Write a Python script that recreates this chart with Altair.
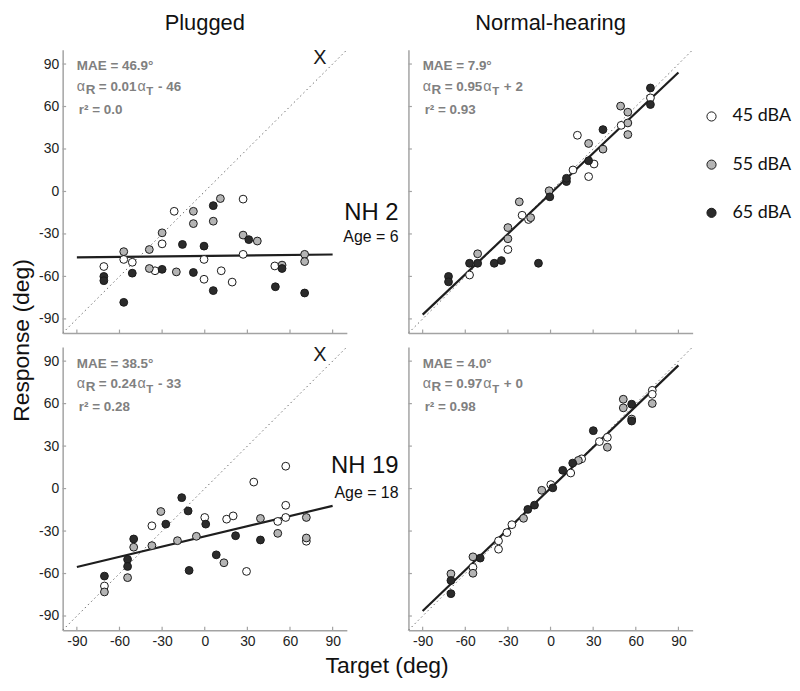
import altair as alt
import pandas as pd

LEVELS = ["45 dBA", "55 dBA", "65 dBA"]
FILLS = ["#ffffff", "#b4b4b4", "#2b2b2b"]
TICKS = [-90, -60, -30, 0, 30, 60, 90]

# Panel 1: Plugged, NH 2
p1_45_t = [-71, -57, -51, -35, -30, -21.5, -0.5, -0.5, 11.6, 19.3, 27, 27, 49.3]
p1_45_r = [-53, -48, -50, -56, -37, -14, -48, -62, -56, -64, -5.4, -44.4, -52.6]
p1_55_t = [-57, -39, -39, -30, -20, -8, -8, 6, 11, 27, 37, 54.4, 70.3, 70.3]
p1_55_r = [-42.5, -41, -54.4, -29.2, -56.8, -14, -22.7, -21, -5, -30.8, -35, -52, -44.4, -49.5]
p1_65_t = [-71, -71, -57, -51, -30, -15.7, -8, -0.5, 6, 6, 31, 49.7, 54.4, 70.3]
p1_65_r = [-60, -63, -78.3, -57.7, -55, -37.4, -57.2, -38.6, -10, -70, -34, -67.3, -54.4, -71.7]

# Panel 2: Normal-hearing, NH 2
p2_45_t = [-57, -30, -20, -15.5, 15.8, 18.9, 26.8, 30.6, 49.7, 70.3]
p2_45_r = [-59, -41, -16.8, -19.8, 15.2, 39.7, 10.5, 19.4, 46.7, 66.1]
p2_55_t = [-51.3, -30, -30, -22, -14, -1, 26.8, 36.9, 49.3, 54.4, 54.4, 54.4]
p2_55_r = [-44, -25.5, -33.4, -7.3, -18.5, 0.5, 33.9, 29.9, 60.3, 56, 48.4, 40.2]
p2_65_t = [-71.8, -71.8, -57, -51.3, -39.6, -34.6, -8.5, -0.5, 11.2, 11.2, 26.8, 36.9, 70.3, 70.3]
p2_65_r = [-60, -63.8, -50.7, -50.7, -50.7, -48.8, -50.7, -3.8, 7, 9.3, 21.7, 43.7, 73.1, 61.4]

# Panel 3: Plugged, NH 19
p3_45_t = [-70.6, -37.2, 0, 15.4, 20, 29.4, 34.5, 51.4, 57, 57, 57, 71.5]
p3_45_r = [-68.8, -26.3, -20.4, -21.6, -19.3, -58.5, 4.6, -23.2, 15.8, -11.8, -20.4, -37.2]
p3_55_t = [-70.6, -54.3, -50, -37.2, -30.9, -19.2, -5.9, 13.5, 39.2, 51.4, 71.5, 71.5]
p3_55_r = [-73, -62.9, -41.4, -40.3, -16.2, -36.8, -33.7, -52.4, -21.1, -31.6, -20.4, -34.9]
p3_65_t = [-70.6, -54.3, -54.3, -50, -27.4, -16.2, -11.7, -11, 0.7, 8.1, 21.7, 39.2]
p3_65_r = [-61.8, -50, -55, -35.6, -25.1, -6.4, -15.8, -57.8, -25.1, -46.8, -33.3, -36.3]

# Panel 4: Normal-hearing, NH 19
p4_45_t = [-54.6, -36.6, -36.6, -30.7, -27.2, 0.2, 14.2, 21.9, 34.4, 40, 71.6, 71.6]
p4_45_r = [-55.6, -36.9, -42.8, -31.1, -25.5, 2.8, 11, 21, 33.2, 36.2, 69.4, 66.6]
p4_55_t = [-70.1, -54.6, -54.6, -19, -6.2, 19.6, 40, 51.2, 51.2, 57.1, 71.6]
p4_55_r = [-60.2, -48.2, -59.8, -21, -1.2, 19.9, 29.2, 63.1, 57, 49.1, 60.1]
p4_65_t = [-70.1, -70.1, -49.5, -16, -11.3, 1.6, 8.6, 15.6, 30.1, 57.1, 57.1]
p4_65_r = [-74.2, -64.9, -49.1, -14.7, -11.7, 0.5, 12.9, 18, 40.9, 59.6, 47.7]

# Regression lines (endpoints at target -90 and 90)
FIT_X = [-90, 90]
p1_fit = [-46.5, -44.5]
p2_fit = [-87, 84]
p3_fit = [-55.4, -12.2]
p4_fit = [-86.5, 87]

MAE = ["MAE = 46.9°", "MAE = 7.9°", "MAE = 38.5°", "MAE = 4.0°"]
SLOPE = ["= 0.01", "= 0.95", "= 0.24", "= 0.97"]
INTERCEPT = ["- 46", "+ 2", "- 33", "+ 0"]
R2 = ["r² = 0.0", "r² = 0.93", "r² = 0.28", "r² = 0.98"]
SUBJECT = [None, ("NH 2", "Age = 6"), None, ("NH 19", "Age = 18")]
SUBJECT_Y = [None, (-15, -32.5), None, (16, -3)]
COL_TITLES = ["Plugged", "Normal-hearing", None, None]

W, H = 286, 285
FONT = "Liberation Sans"
ANN = "#808080"
AXC = "#a3a3a3"
FS = 13.5

CW = {'0': .556, '1': .556, '2': .556, '3': .556, '4': .556, '5': .556, '6': .556,
      '7': .556, '8': .556, '9': .556, '.': .278, ' ': .278, '=': .584, '-': .333,
      '+': .584, 'R': .722, 'T': .611}


def tw(s, fs):
    return sum(CW.get(c, .556) for c in s) * fs


def pts(ts, rs, lev):
    return pd.DataFrame({"x": ts, "y": rs, "level": lev})


DATA = [
    pd.concat([pts(p1_45_t, p1_45_r, LEVELS[0]), pts(p1_55_t, p1_55_r, LEVELS[1]), pts(p1_65_t, p1_65_r, LEVELS[2])]),
    pd.concat([pts(p2_45_t, p2_45_r, LEVELS[0]), pts(p2_55_t, p2_55_r, LEVELS[1]), pts(p2_65_t, p2_65_r, LEVELS[2])]),
    pd.concat([pts(p3_45_t, p3_45_r, LEVELS[0]), pts(p3_55_t, p3_55_r, LEVELS[1]), pts(p3_65_t, p3_65_r, LEVELS[2])]),
    pd.concat([pts(p4_45_t, p4_45_r, LEVELS[0]), pts(p4_55_t, p4_55_r, LEVELS[1]), pts(p4_65_t, p4_65_r, LEVELS[2])]),
]
FITS = [p1_fit, p2_fit, p3_fit, p4_fit]

legend = alt.Legend(orient="none", legendX=644, legendY=58, title=None,
                    symbolType="circle", symbolSize=85, symbolStrokeColor="#1a1a1a",
                    symbolStrokeWidth=1, symbolFillColor="#ffffff",
                    labelFont="Lato", labelFontSize=18, labelColor="#111111",
                    labelOffset=12, rowPadding=30.5, padding=0)


def make_axis(labels, title=None, **kw):
    return alt.Axis(values=TICKS, labels=labels, ticks=False, tickSize=0, grid=False,
                    domainColor=AXC, domainWidth=1.5, labelFont=FONT, labelFontSize=14,
                    labelColor="#222222", labelPadding=4, labelExpr="'' + datum.value",
                    title=title, titleFont=FONT, titleFontSize=23, titleFontWeight="normal",
                    titleColor="#111111", **kw)


def panel(i):
    left = i in (0, 2)
    bottom = i in (2, 3)
    if i == 0:
        yax = make_axis(True, "Response (deg)", titleX=-34, titleY=292, titleAngle=270,
                        titleAlign="center", titleBaseline="alphabetic")
    else:
        yax = make_axis(left, None)
    if i == 2:
        xax = make_axis(True, "Target (deg)", titleX=326, titleY=43,
                        titleAlign="center", titleBaseline="alphabetic")
    else:
        xax = make_axis(bottom, None)
    xs = alt.Scale(domain=[-100, 100], nice=False, zero=False)
    ys = alt.Scale(domain=[-100, 100], nice=False, zero=False)

    def X():
        return alt.X("x:Q", scale=xs, axis=xax)

    def Y():
        return alt.Y("y:Q", scale=ys, axis=yax)

    layers = []
    diag = pd.DataFrame({"x": [-100, 100], "y": [-100, 100]})
    layers.append(alt.Chart(diag).mark_line(color="#6e6e6e", strokeWidth=1, strokeDash=[1.5, 3])
                  .encode(x=X(), y=Y()))
    fit = pd.DataFrame({"x": FIT_X, "y": FITS[i]})
    layers.append(alt.Chart(fit).mark_line(color="#1e1e1e", strokeWidth=2.2).encode(x=X(), y=Y()))
    tdf = pd.DataFrame({"x": TICKS, "y": TICKS})
    layers.append(alt.Chart(tdf).mark_rule(color=AXC, strokeWidth=1.2)
                  .encode(x=X(), y=alt.value(H), y2=alt.value(H - 3.5)))
    layers.append(alt.Chart(tdf).mark_rule(color=AXC, strokeWidth=1.2)
                  .encode(y=Y(), x=alt.value(0), x2=alt.value(3.5)))
    layers.append(alt.Chart(DATA[i]).mark_circle(size=62, stroke="#1a1a1a", strokeWidth=1, opacity=1)
                  .encode(x=X(), y=Y(),
                          fill=alt.Fill("level:N", scale=alt.Scale(domain=LEVELS, range=FILLS),
                                        legend=legend)))

    def txt(s, xv, yv, **mk):
        d = pd.DataFrame({"x": [xv], "y": [yv], "t": [s]})
        return alt.Chart(d).mark_text(**mk).encode(x=X(), y=Y(), text="t:N")

    base = dict(font=FONT, color=ANN, align="left", baseline="alphabetic")
    layers.append(txt(MAE[i], -90, 85.5, fontSize=FS, fontWeight="bold", **base))
    layers.append(txt(R2[i], -90, 54.5, fontSize=FS, fontWeight="bold", dx=2, **base))
    # equation pieces: alpha, R (sub), slope, alpha, T (sub), intercept
    x = 0.0
    layers.append(txt("α", -90, 71, fontSize=FS + 1, fontWeight="normal", dx=x, **base))
    x += 0.578 * (FS + 1) + 0.5
    layers.append(txt("R", -90, 71, fontSize=FS, fontWeight="bold", dx=x, dy=3, **base))
    x += tw("R", FS) + 3.5
    layers.append(txt(SLOPE[i], -90, 71, fontSize=FS, fontWeight="bold", dx=x, **base))
    x += tw(SLOPE[i], FS) + 1.0
    layers.append(txt("α", -90, 71, fontSize=FS + 1, fontWeight="normal", dx=x, **base))
    x += 0.578 * (FS + 1) + 0.5
    layers.append(txt("T", -90, 71, fontSize=FS - 2, fontWeight="bold", dx=x, dy=4.5, **base))
    x += tw("T", FS - 2) + 1.0 + tw(" ", FS)
    layers.append(txt(INTERCEPT[i], -90, 71, fontSize=FS, fontWeight="bold", dx=x, **base))

    if left:
        layers.append(txt("X", 81, 94, font=FONT, fontSize=20, color="#1a1a1a",
                          align="center", baseline="middle"))
    if SUBJECT[i]:
        name, age = SUBJECT[i]
        yn, ya = SUBJECT_Y[i]
        layers.append(txt(name, -100, yn, font=FONT, fontSize=24, color="#111111",
                          align="right", baseline="middle", dx=-10))
        layers.append(txt(age, -100, ya, font=FONT, fontSize=16, color="#111111",
                          align="right", baseline="middle", dx=-10))

    ch = alt.layer(*layers).properties(width=W, height=H)
    if COL_TITLES[i]:
        ch = ch.properties(title=alt.TitleParams(COL_TITLES[i], font=FONT, fontSize=22,
                                                 fontWeight="normal", color="#111111",
                                                 anchor="middle", baseline="alphabetic",
                                                 offset=-4))
    return ch


chart = (alt.concat(panel(0), panel(1), panel(2), panel(3), columns=2,
                    spacing={"row": 14, "column": 62}, bounds="flush")
         .properties(padding={"left": 3, "top": 2, "right": 0, "bottom": 0})
         .configure_view(strokeWidth=0))

chart.save("out.html", embed_options={"renderer": "svg", "actions": False})
